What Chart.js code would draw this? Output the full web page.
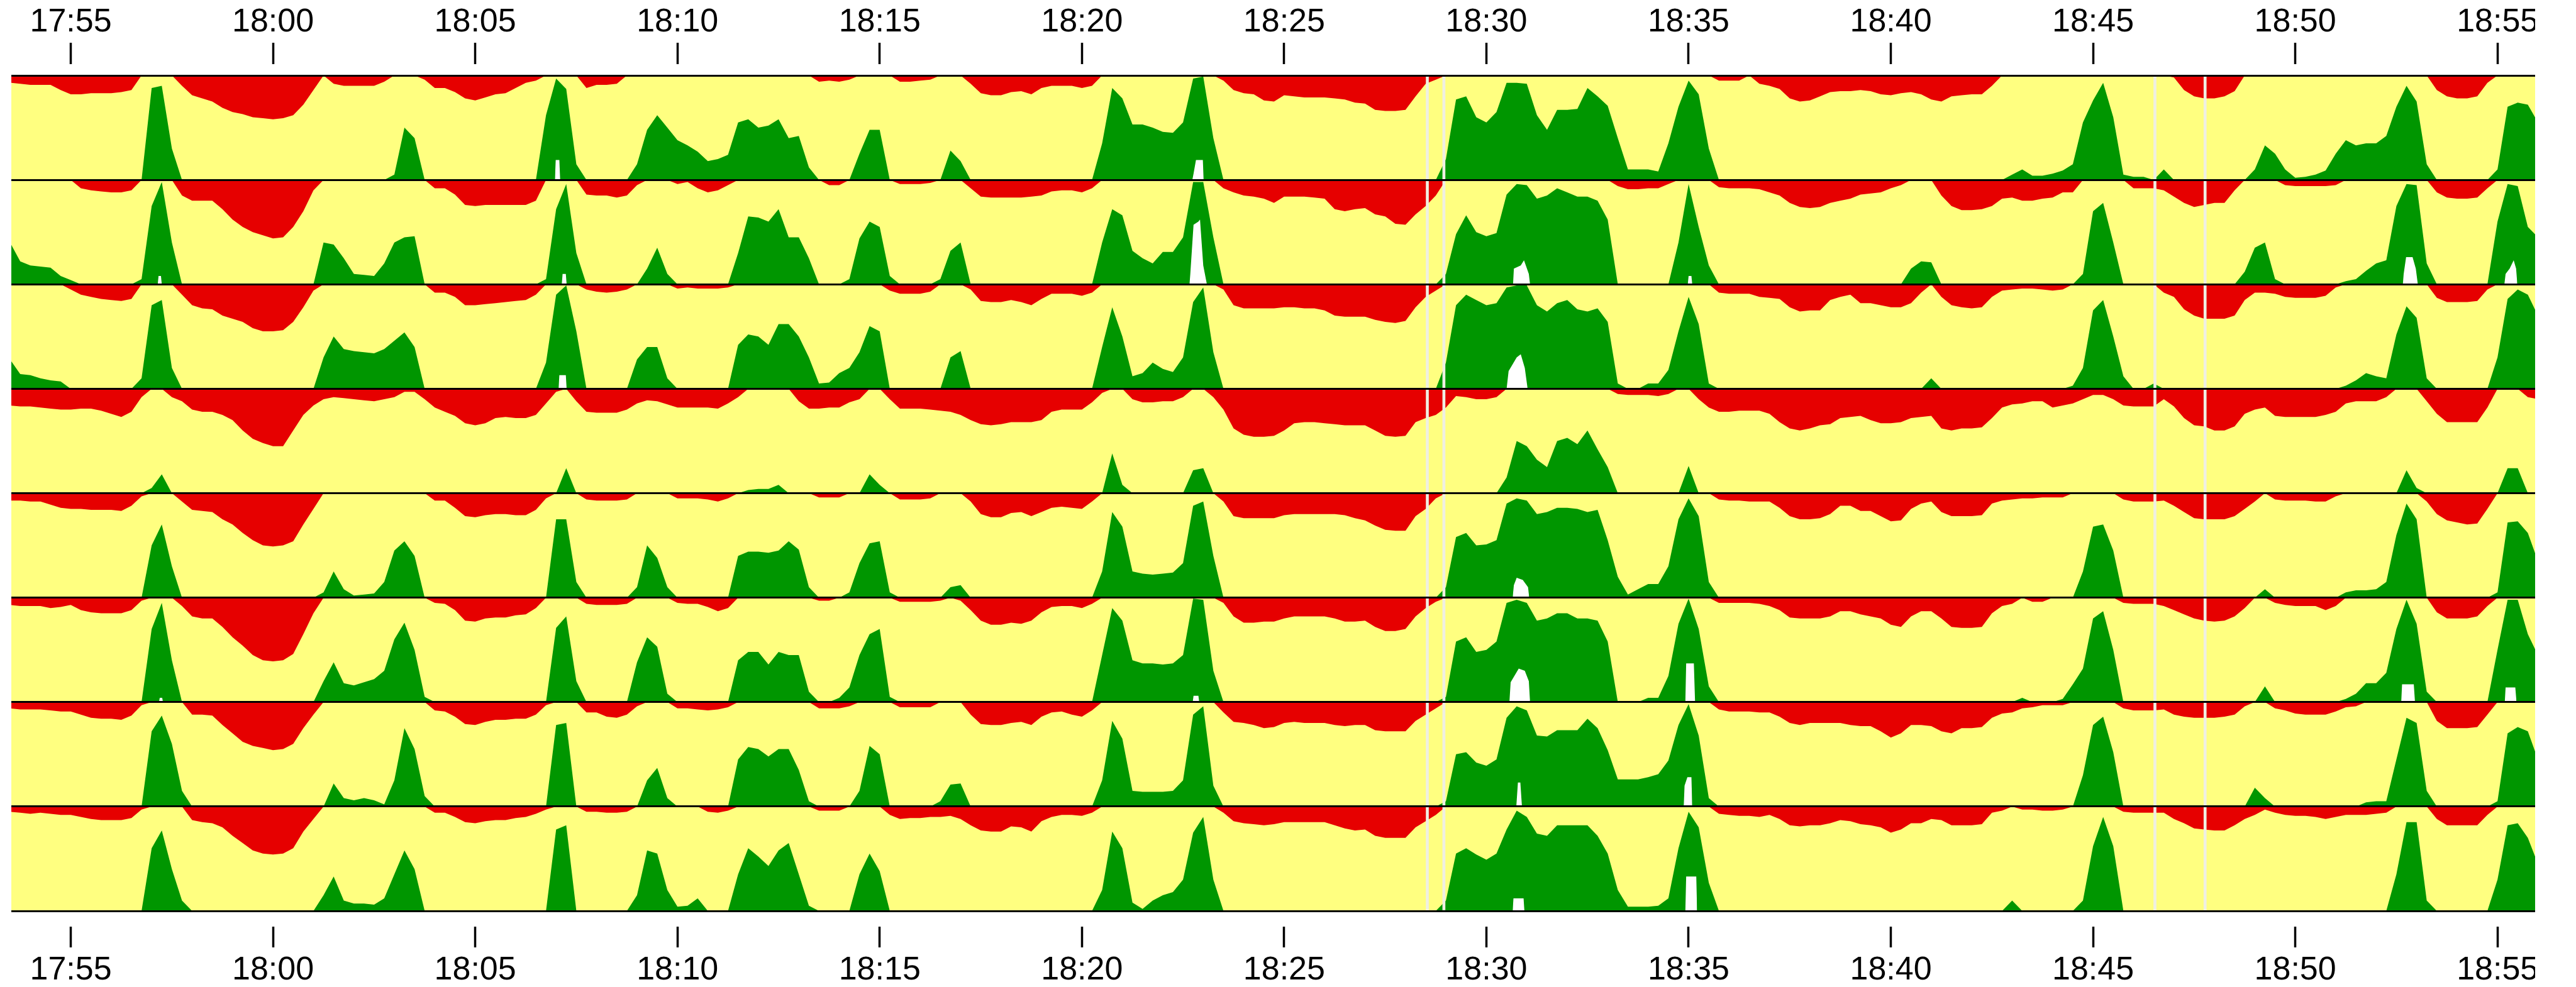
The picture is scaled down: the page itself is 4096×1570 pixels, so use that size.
<!DOCTYPE html>
<html>
<head>
<meta charset="utf-8">
<title>Rows</title>
<script src="https://cdn.jsdelivr.net/npm/chart.js@4.4.1/dist/chart.umd.min.js"></script>
<style>
  html, body { margin: 0; padding: 0; background: #fff; }
  #wrap { width: 4031px; height: 1570px; }
</style>
</head>
<body>
<div id="wrap"><canvas id="rowsChart" width="4031" height="1570"></canvas></div>
<script>
// minutes after 17:55, one sample every 15 s
const startMinute = -1.5;
const stepMinute = 0.25;
const xMin = -1.47;
const xMax = 60.93;

const tickMinutes = [0, 5, 10, 15, 20, 25, 30, 35, 40, 45, 50, 55, 60];
const tickLabels = ['17:55', '18:00', '18:05', '18:10', '18:15', '18:20', '18:25',
                    '18:30', '18:35', '18:40', '18:45', '18:50', '18:55'];

// missing samples
const gapMinutes = [33.54, 33.95, 51.53, 52.77];

// % of row height: > 0 green up from the bottom, < 0 red down from the top
const row1 = [-7,-8,
 -9,-9,-9,-14, -18,-18,-17,-17, -17,-16,-14,0, 88,90,30,-10, -19,-22,-25,-31,
 -35,-37,-40,-41, -42,-41,-38,-28, -14,0,-8,-10, -10,-10,-10,-6, 5,50,40,-4,
 -12,-12,-16,-22, -24,-21,-18,-17, -12,-7,-5,62, 97,87,15,-12, -9,-9,-8,0,
 15,48,62,50, 38,33,27,18, 20,24,55,58, 50,52,58,40, 42,12,-6,-5,
 -6,-4,25,48, 48,0,-6,-6, -5,-4,0,28, 18,-8,-17,-19, -19,-16,-15,-18,
 -12,-10,-10,-10, -12,-10,35,88, 78,53,53,50, 46,45,55,97, 99,40,-5,-14,
 -17,-18,-24,-25, -19,-20,-21,-21, -21,-22,-23,-26, -27,-33,-34,-34, -33,-20,-8,-4,
 20,77,80,60, 55,65,93,93, 92,62,48,67, 67,68,88,80, 71,40,10,10,
 10,8,35,70, 95,82,30,-5, -5,-5,0,-8, -10,-13,-22,-25, -24,-20,-16,-15,
 -15,-14,-15,-18, -19,-17,-16,-18, -23,-25,-20,-19, -18,-18,-10,0, 5,10,4,4,
 6,9,15,55, 76,93,60,5, 3,3,0,10, -2,-14,-20,-22, -22,-20,-15,0,
 10,33,25,10, 2,3,5,9, 25,38,33,35, 35,42,70,90, 75,15,-14,-20,
 -22,-22,-20,-7, 10,70,74,72,
 55];
const row2 = [40,22,
 18,17,16,8, 4,-8,-10,-11, -12,-12,-10,5, 75,98,40,-15, -20,-20,-20,-28,
 -38,-45,-50,-53, -56,-55,-45,-30, -10,40,38,25, 10,9,8,20, 40,45,46,0,
 -8,-8,-14,-24, -25,-24,-24,-24, -24,-24,-20,5, 72,96,30,-14, -15,-15,-17,-15,
 -5,15,35,10, -4,-2,-8,-12, -10,-5,30,65, 64,60,72,45, 45,25,0,-5,
 -5,5,44,60, 55,8,-4,-4, -4,-3,5,32, 40,-8,-16,-17, -17,-17,-17,-16,
 -15,-11,-10,-10, -12,-8,40,72, 66,32,25,20, 31,31,45,98, 98,45,-8,-12,
 -15,-16,-18,-22, -16,-16,-16,-17, -18,-28,-30,-28, -27,-33,-35,-42, -43,-33,-25,-15,
 10,48,66,50, 46,49,86,96, 95,82,85,92, 88,84,84,80, 62,-6,-9,-9,
 -8,-8,-4,40, 96,55,18,-7, -8,-8,-8,-9, -12,-15,-22,-26, -27,-26,-22,-20,
 -18,-14,-13,-12, -8,-5,15,22, 21,-15,-25,-29, -29,-28,-25,-18, -17,-20,-20,-18,
 -17,-12,-12,10, 70,78,40,0, -8,-8,-8,-10, -16,-22,-26,-24, -22,-22,-10,12,
 35,40,5,-5, -6,-6,-6,-6, -5,3,5,13, 20,23,75,96, 95,20,-12,-17,
 -18,-18,-17,-8, 60,96,94,55,
 45];
const row3 = [28,14,
 13,10,8,7, -5,-10,-12,-14, -15,-16,-14,10, 80,85,20,-10, -20,-23,-24,-30,
 -33,-36,-42,-45, -45,-44,-36,-22, -6,30,50,38, 36,35,34,38, 46,54,40,0,
 -8,-8,-12,-20, -20,-19,-18,-17, -16,-15,-10,25, 90,99,55,-5, -7,-8,-7,-5,
 28,40,40,10, -4,-3,-4,-4, -4,-3,42,52, 50,42,62,62, 50,30,5,6,
 15,20,35,60, 55,-6,-9,-9, -9,-7,0,30, 36,-5,-16,-17, -17,-15,-17,-20,
 -14,-9,-9,-9, -11,-8,40,78, 50,12,15,25, 19,16,30,83, 97,35,-5,-20,
 -23,-23,-23,-23, -22,-22,-23,-23, -25,-30,-31,-31, -31,-34,-36,-37, -35,-22,-12,-6,
 25,80,90,85, 80,82,97,99, 99,80,74,82, 85,76,74,77, 64,5,0,0,
 5,5,18,55, 88,62,5,-8, -9,-9,-9,-12, -13,-14,-22,-26, -25,-25,-15,-12,
 -10,-18,-18,-20, -22,-22,-18,-8, 10,-12,-20,-22, -23,-22,-12,-6, -5,-4,-4,-5,
 -6,-5,3,20, 75,85,50,12, 0,0,5,-8, -12,-24,-30,-33, -33,-33,-30,-15,
 -8,-8,-9,-12, -13,-13,-13,-11, -3,3,8,15, 12,10,52,79, 68,10,-13,-17,
 -17,-17,-16,-5, 30,86,95,90,
 70];
const row4 = [-16,-17,
 -17,-18,-19,-20, -20,-19,-19,-21, -24,-27,-22,-8, 5,18,-8,-12, -20,-22,-22,-25,
 -30,-40,-48,-52, -55,-55,-40,-25, -16,-10,-8,-9, -10,-11,-12,-10, -8,-3,-3,-10,
 -18,-22,-26,-33, -35,-33,-28,-27, -28,-28,-25,-14, -3,24,-12,-22, -23,-23,-23,-20,
 -14,-11,-12,-15, -18,-18,-18,-18, -19,-14,-8,3, 4,4,8,0, -12,-19,-19,-18,
 -18,-13,-10,18, 8,-10,-19,-19, -19,-20,-21,-22, -25,-30,-34,-35, -34,-32,-32,-32,
 -30,-22,-20,-20, -20,-13,-4,38, 8,-10,-13,-13, -12,-12,-8,22, 24,-8,-20,-38,
 -44,-46,-46,-45, -40,-33,-32,-32, -33,-34,-35,-35, -35,-40,-45,-46, -45,-32,-28,-25,
 -18,-7,-8,-10, -10,-8,15,50, 45,32,25,50, 53,47,60,42, 25,-5,-6,-6,
 -6,-7,-5,0, 26,-10,-18,-22, -22,-21,-21,-21, -24,-32,-38,-40, -38,-35,-34,-28,
 -27,-26,-30,-33, -33,-32,-28,-27, -26,-38,-40,-38, -38,-37,-28,-18, -15,-14,-12,-12,
 -18,-16,-14,-10, -6,-6,-10,-16, -17,-17,-17,-10, -17,-28,-35,-36, -40,-40,-36,-24,
 -20,-18,-26,-27, -27,-27,-27,-25, -22,-14,-12,-12, -12,-8,0,22, 5,-12,-24,-32,
 -32,-32,-32,-18, 0,24,24,-8,
 -10];
const row5 = [-7,-7,
 -8,-8,-11,-14, -15,-15,-16,-16, -16,-17,-12,-3, 50,70,30,-8, -16,-17,-18,-25,
 -30,-38,-45,-50, -51,-50,-46,-30, -15,5,25,8, 2,3,4,15, 45,54,40,0,
 -7,-7,-14,-22, -23,-21,-20,-20, -21,-21,-16,-5, 75,75,15,-6, -7,-7,-7,-6,
 10,50,38,10, -5,-5,-5,-6, -8,-5,40,44, 44,43,45,54, 46,10,-4,-4,
 -4,5,33,52, 54,5,-6,-6, -6,-5,0,10, 12,-8,-20,-23, -23,-19,-18,-22,
 -18,-14,-13,-14, -15,-8,25,82, 68,25,23,22, 23,24,33,88, 92,40,-8,-22,
 -24,-24,-24,-24, -21,-20,-20,-20, -20,-20,-21,-24, -26,-31,-35,-36, -36,-22,-15,-5,
 10,58,62,50, 51,55,90,95, 93,80,82,86, 86,85,82,84, 55,20,3,8,
 13,13,30,75, 95,78,15,-6, -7,-7,-8,-8, -8,-14,-22,-25, -25,-24,-20,-12,
 -12,-17,-17,-22, -27,-26,-15,-10, -8,-18,-22,-22, -22,-21,-10,-7, -6,-5,-5,-4,
 -4,-4,0,25, 68,70,45,-6, -8,-8,-8,-7, -12,-18,-24,-25, -25,-25,-22,-15,
 -8,8,-6,-7, -7,-7,-8,-8, -3,5,7,7, 8,15,60,90, 75,-8,-20,-26,
 -28,-30,-29,-15, 5,72,73,62,
 35];
const row6 = [-7,-8,
 -8,-8,-10,-9, -7,-12,-14,-15, -15,-15,-12,-3, 70,95,40,-8, -18,-20,-20,-28,
 -38,-46,-55,-60, -61,-60,-54,-35, -15,20,38,18, 16,19,22,30, 60,76,50,5,
 -5,-6,-12,-22, -23,-20,-19,-19, -17,-16,-10,0, 71,82,20,-6, -7,-7,-7,-6,
 38,62,53,8, -5,-6,-6,-9, -13,-10,40,48, 48,36,48,45, 45,10,-3,-3,
 4,14,45,65, 70,5,-4,-4, -4,-4,-3,0, -3,-12,-22,-26, -26,-24,-25,-22,
 -14,-9,-8,-8, -10,-6,45,90, 78,40,37,37, 36,37,45,99, 98,30,-5,-18,
 -24,-24,-23,-23, -20,-18,-18,-18, -18,-20,-23,-23, -22,-28,-32,-32, -30,-18,-10,-4,
 5,58,62,48, 50,58,95,98, 95,78,80,85, 85,80,80,78, 58,0,0,0,
 4,4,25,75, 99,70,15,-5, -5,-5,-5,-6, -8,-12,-19,-20, -20,-20,-18,-13,
 -13,-16,-18,-20, -26,-28,-18,-13, -13,-20,-28,-29, -29,-28,-15,-8, -6,4,-4,-4,
 0,3,17,32, 80,87,50,-5, -6,-6,-6,-8, -12,-16,-20,-22, -23,-22,-18,-10,
 0,15,-5,-7, -8,-8,-8,-12, -8,3,8,18, 18,28,70,98, 75,10,-14,-20,
 -20,-20,-18,-8, 50,98,98,65,
 45];
const row7 = [-6,-7,
 -7,-7,-8,-9, -9,-12,-15,-16, -16,-17,-13,-3, 72,87,60,15, -12,-12,-13,-22,
 -30,-38,-42,-44, -46,-45,-40,-25, -12,0,22,8, 6,8,6,2, 25,75,55,10,
 -8,-9,-14,-21, -22,-19,-17,-17, -16,-16,-12,-3, 78,80,0,-10, -10,-14,-15,-12,
 -4,25,37,8, -6,-6,-7,-8, -7,-5,45,57, 55,48,55,55, 35,5,-6,-6,
 -6,-4,15,58, 50,0,-5,-5, -5,-5,5,21, 22,-12,-21,-22, -22,-20,-19,-22,
 -14,-10,-9,-12, -14,-8,25,82, 65,15,14,14, 14,15,25,88, 96,20,-10,-19,
 -20,-22,-25,-24, -20,-19,-20,-20, -20,-22,-23,-22, -22,-27,-28,-28, -28,-18,-12,-6,
 5,50,52,42, 39,45,85,96, 92,68,67,73, 73,73,84,75, 54,26,26,26,
 28,31,44,78, 98,68,8,-7, -9,-9,-9,-10, -10,-14,-20,-22, -20,-20,-20,-20,
 -22,-23,-23,-28, -34,-30,-22,-22, -23,-28,-30,-25, -25,-24,-15,-11, -10,-6,-5,-3,
 -3,-3,0,30, 78,86,52,-6, -8,-8,-8,-7, -12,-14,-15,-15, -15,-14,-12,-4,
 18,8,-6,-8, -11,-12,-12,-12, -9,-5,-4,4, 5,5,45,85, 80,15,-18,-25,
 -25,-25,-24,-12, 5,70,76,72,
 45];
const row8 = [-5,-6,
 -7,-6,-7,-8, -8,-10,-12,-13, -13,-13,-11,-3, 60,77,40,10, -13,-15,-16,-20,
 -28,-35,-42,-45, -46,-45,-40,-24, -12,15,33,10, 7,7,6,12, 35,58,40,0,
 -6,-6,-10,-15, -16,-14,-13,-13, -11,-10,-7,-3, 78,82,0,-5, -5,-6,-6,-5,
 15,58,55,20, 4,5,12,-5, -6,-4,35,60, 52,43,58,65, 35,5,-4,-4,
 -4,0,35,55, 38,-8,-12,-11, -11,-10,-10,-9, -12,-18,-23,-24, -24,-19,-20,-24,
 -14,-10,-8,-8, -9,-6,20,76, 60,8,2,10, 15,18,30,75, 90,30,-6,-14,
 -16,-17,-18,-17, -15,-15,-15,-15, -15,-18,-21,-23, -22,-28,-30,-30, -30,-20,-14,-8,
 10,55,60,54, 49,55,78,96, 90,74,72,82, 82,82,82,72, 55,20,4,4,
 4,5,12,60, 95,80,27,-7, -8,-9,-9,-10, -8,-12,-18,-19, -18,-18,-16,-13,
 -14,-17,-18,-20, -25,-22,-16,-16, -12,-13,-18,-18, -18,-17,-6,-4, 10,-3,-3,-4,
 -4,-3,0,10, 62,90,62,-5, -6,-6,-6,-6, -12,-16,-21,-22, -23,-23,-18,-12,
 -8,-3,-6,-8, -9,-9,-10,-12, -10,-8,-8,-8, -7,-6,35,85, 85,10,-12,-18,
 -18,-18,-18,-8, 30,82,84,70,
 45];

// white notches at the foot of the green, [minute, % of row height]
const white1 = [[11.97,0],[11.99,19],[12.08,19],[12.1,0],
  [27.73,0],[27.76,6],[27.82,19],[27.99,19],[28.01,0]];
const white2 = [[2.15,0],[2.17,8],[2.23,8],[2.25,0],
  [12.14,0],[12.16,10],[12.24,10],[12.26,0],
  [27.66,0],[27.68,10],[27.76,57],[27.88,60],[27.92,62],[28.0,18],[28.09,0],
  [35.66,0],[35.68,15],[35.85,18],[35.93,23],[36.05,10],[36.08,0],
  [39.98,0],[40.0,8],[40.07,8],[40.09,0],
  [57.66,0],[57.68,10],[57.74,26],[57.9,26],[57.98,15],[58.03,0],
  [60.17,0],[60.2,10],[60.3,15],[60.4,23],[60.46,15],[60.49,0]];
const white3 = [[12.06,0],[12.08,13],[12.24,13],[12.26,0],
  [35.5,0],[35.55,17],[35.75,30],[35.85,33],[35.95,20],[36.02,0]];
const white4 = [];
const white5 = [[35.65,0],[35.68,12],[35.75,19],[35.9,17],[36.03,10],[36.06,0]];
const white6 = [[2.18,0],[2.2,4],[2.26,4],[2.28,0],
  [27.74,0],[27.76,6],[27.88,6],[27.9,0],
  [35.57,0],[35.6,19],[35.8,32],[35.95,30],[36.05,20],[36.08,0],
  [39.92,0],[39.94,37],[40.13,37],[40.16,0],
  [57.62,0],[57.64,17],[57.93,17],[57.96,0],
  [60.18,0],[60.2,14],[60.44,14],[60.47,0]];
const white7 = [[35.74,0],[35.78,23],[35.84,23],[35.88,0],
  [39.88,0],[39.9,20],[39.97,28],[40.07,28],[40.09,0]];
const white8 = [[35.65,0],[35.67,12],[35.92,12],[35.94,0],
  [39.92,0],[39.94,33],[40.19,33],[40.21,0]];

const YELLOW = '#ffff80';
const RED = '#e60000';
const GREEN = '#009600';
const GAP = '#efefe2';
const FONT = "'Liberation Sans', Arial, Helvetica, sans-serif";

document.addEventListener('DOMContentLoaded', function () {
    const rows = [row1, row2, row3, row4, row5, row6, row7, row8];
    const whites = [white1, white2, white3, white4, white5, white6, white7, white8];
    const minutes = row1.map((_, i) => startMinute + i * stepMinute);

    rows.forEach(function (r, i) {
        if (r.length !== minutes.length) console.warn('row' + (i + 1) + ' has ' + r.length + ' samples');
    });

    const datasets = [];
    rows.forEach(function (vals, r) {
        const top = 8 - r;
        const base = 7 - r;
        datasets.push({
            data: vals.map((v, i) => ({ x: minutes[i], y: base + Math.max(v, 0) / 100 })),
            fill: { value: base },
            backgroundColor: GREEN,
            order: 2
        });
        datasets.push({
            data: vals.map((v, i) => ({ x: minutes[i], y: top - Math.max(-v, 0) / 100 })),
            fill: { value: top },
            backgroundColor: RED,
            order: 2
        });
        if (whites[r].length) {
            datasets.push({
                data: whites[r].map(p => ({ x: p[0], y: base + p[1] / 100 })),
                fill: { value: base },
                backgroundColor: '#ffffff',
                order: 1
            });
        }
    });
    datasets.push({
        type: 'bar',
        data: gapMinutes.map(m => ({ x: m, y: 8 })),
        backgroundColor: GAP,
        barThickness: 4,
        order: 0
    });

    function timeAxis(position) {
        const isTop = position === 'top';
        return {
            type: 'linear',
            position: position,
            min: xMin,
            max: xMax,
            offset: false,
            afterBuildTicks: function (s) { s.ticks = tickMinutes.map(v => ({ value: v })); },
            afterFit: function (s) {
                s.paddingLeft = 0;
                s.paddingRight = 0;
                s.height = isTop ? 120 : 121;
            },
            border: { display: false },
            grid: {
                offset: false,
                drawOnChartArea: false,
                tickColor: '#000',
                tickWidth: 3.5,
                tickLength: isTop ? 52 : 58,
                tickBorderDash: isTop ? [34, 18] : [0, 25, 33, 100]
            },
            ticks: {
                autoSkip: false,
                maxRotation: 0,
                color: '#000',
                padding: isTop ? 1.3 : 5.8,
                font: { family: FONT, size: 52 },
                callback: function (v, i) { return tickLabels[i]; }
            }
        };
    }

    const rowBackground = {
        id: 'rowBackground',
        beforeDraw: function (chart) {
            const a = chart.chartArea;
            const ctx = chart.ctx;
            ctx.save();
            ctx.fillStyle = YELLOW;
            ctx.fillRect(a.left, a.top, a.right - a.left, a.bottom - a.top);
            ctx.restore();
        }
    };

    new Chart(document.getElementById('rowsChart'), {
        type: 'line',
        data: { datasets: datasets },
        options: {
            responsive: false,
            animation: false,
            events: [],
            layout: { padding: { left: 18, right: 0, top: 0, bottom: 0 } },
            elements: {
                line: { borderWidth: 0, tension: 0 },
                point: { radius: 0, hitRadius: 0, hoverRadius: 0 }
            },
            plugins: {
                legend: { display: false },
                tooltip: { enabled: false }
            },
            scales: {
                x: timeAxis('bottom'),
                x2: timeAxis('top'),
                y: {
                    type: 'linear',
                    min: 0,
                    max: 8,
                    afterFit: function (s) { s.width = 0; },
                    ticks: { display: false, stepSize: 1 },
                    border: { display: false },
                    grid: { z: 1, color: '#000', lineWidth: 3, drawTicks: false }
                }
            }
        },
        plugins: [rowBackground]
    });
});
</script>
</body>
</html>
